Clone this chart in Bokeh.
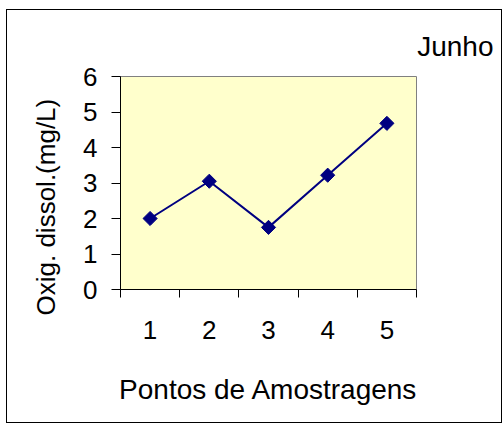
import math
from bokeh.plotting import figure
from bokeh.models import Range1d, FixedTicker, Title
from bokeh.embed import file_html
from bokeh.resources import INLINE

# ---- data ----
pontos = ["1", "2", "3", "4", "5"]
x_pos = [1, 2, 3, 4, 5]
oxigenio = [2.0, 3.05, 1.75, 3.22, 4.68]
y_ticks = [0, 1, 2, 3, 4, 5, 6]
mes = "Junho"
x_title = "Pontos de Amostragens"
y_title = "Oxig. dissol.(mg/L)"

FONT = "Liberation Sans"
NAVY = "#000080"

p = figure(width=496, height=414, output_backend="svg", toolbar_location=None,
           x_range=Range1d(0.5, 5.5), y_range=Range1d(0, 6),
           min_border_left=113, min_border_right=87,
           min_border_top=66, min_border_bottom=135,
           background_fill_color="#FFFFCC", border_fill_color="white",
           styles={"border": "1px solid black", "margin-left": "6px", "margin-top": "9px"})
p.outline_line_color = "#808080"
p.xgrid.visible = False
p.ygrid.visible = False

# x axis: category labels at centres, tick marks at boundaries
bounds = [v - 0.5 for v in x_pos] + [x_pos[-1] + 0.5]
xa = p.xaxis[0]
xa.ticker = FixedTicker(ticks=x_pos, minor_ticks=bounds)
xa.major_label_overrides = {v: s for v, s in zip(x_pos, pontos)}
xa.major_tick_out = 0
xa.major_tick_in = 0
xa.minor_tick_out = 8
xa.minor_tick_in = 0
xa.minor_tick_line_color = "black"
xa.axis_line_color = "black"
xa.major_label_text_font = FONT
xa.major_label_text_font_size = "26px"
xa.major_label_text_color = "black"
xa.major_label_standoff = 23
xa.axis_label = x_title
xa.axis_label_text_font = FONT
xa.axis_label_text_font_size = "28px"
xa.axis_label_text_font_style = "normal"
xa.axis_label_text_color = "black"
xa.axis_label_standoff = 32

ya = p.yaxis[0]
ya.ticker = FixedTicker(ticks=y_ticks, minor_ticks=[])
ya.major_tick_out = 9
ya.major_tick_in = 0
ya.major_tick_line_color = "black"
ya.axis_line_color = "black"
ya.major_label_text_font = FONT
ya.major_label_text_font_size = "26px"
ya.major_label_text_color = "black"
ya.major_label_standoff = 14

p.line(x_pos, oxigenio, line_color=NAVY, line_width=2)
p.scatter(x_pos, oxigenio, marker="square", size=10, angle=math.pi / 4,
          fill_color=NAVY, line_color=NAVY)

p.add_layout(Title(text=y_title, align="left", offset=-26, standoff=40,
                   text_font=FONT, text_font_size="26px", text_font_style="normal",
                   text_color="black"), "left")
p.add_layout(Title(text=mes, align="right", offset=-77, standoff=30,
                   text_font=FONT, text_font_size="28px", text_font_style="normal",
                   text_color="black"), "above")

open("out.html", "w").write(file_html(p, INLINE))
